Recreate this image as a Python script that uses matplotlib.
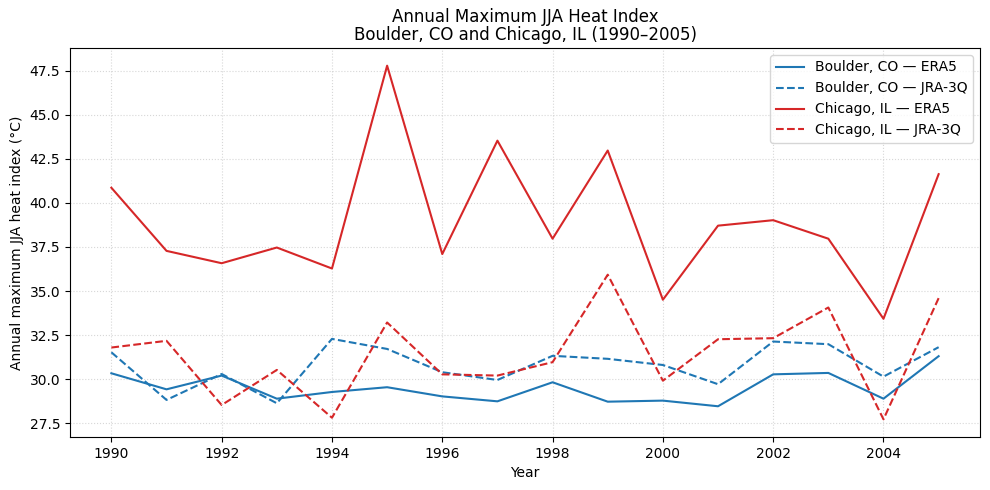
import matplotlib
matplotlib.use("Agg")
import matplotlib.pyplot as plt

years = list(range(1990, 2006))

boulder_era5 = [30.34, 29.43, 30.21, 28.90, 29.28, 29.55, 29.03, 28.75,
                29.83, 28.73, 28.79, 28.47, 30.28, 30.36, 28.90, 31.31]
boulder_jra = [31.53, 28.83, 30.30, 28.64, 32.29, 31.72, 30.40, 29.96,
               31.33, 31.16, 30.81, 29.72, 32.14, 31.99, 30.15, 31.82]
chicago_era5 = [40.86, 37.28, 36.58, 37.47, 36.28, 47.78, 37.10, 43.53,
                37.97, 42.97, 34.51, 38.71, 39.02, 37.97, 33.43, 41.63]
chicago_jra = [31.80, 32.18, 28.54, 30.53, 27.82, 33.22, 30.28, 30.21,
               30.97, 35.93, 29.92, 32.27, 32.33, 34.07, 27.73, 34.60]

fig, ax = plt.subplots(figsize=(9.9, 4.9), dpi=100)
ax.plot(years, boulder_era5, color="tab:blue", linestyle="-", label="Boulder, CO — ERA5")
ax.plot(years, boulder_jra, color="tab:blue", linestyle="--", label="Boulder, CO — JRA-3Q")
ax.plot(years, chicago_era5, color="tab:red", linestyle="-", label="Chicago, IL — ERA5")
ax.plot(years, chicago_jra, color="tab:red", linestyle="--", label="Chicago, IL — JRA-3Q")

ax.set_title("Annual Maximum JJA Heat Index\nBoulder, CO and Chicago, IL (1990–2005)",
             linespacing=0.95)
ax.set_xlabel("Year")
ax.set_ylabel("Annual maximum JJA heat index (°C)")
ax.grid(True, linestyle=":", alpha=0.5)
ax.legend(loc="upper right")
fig.subplots_adjust(left=70/990, right=980/990, top=1-48/490, bottom=1-437/490)
fig.savefig("out.png", dpi=100)
